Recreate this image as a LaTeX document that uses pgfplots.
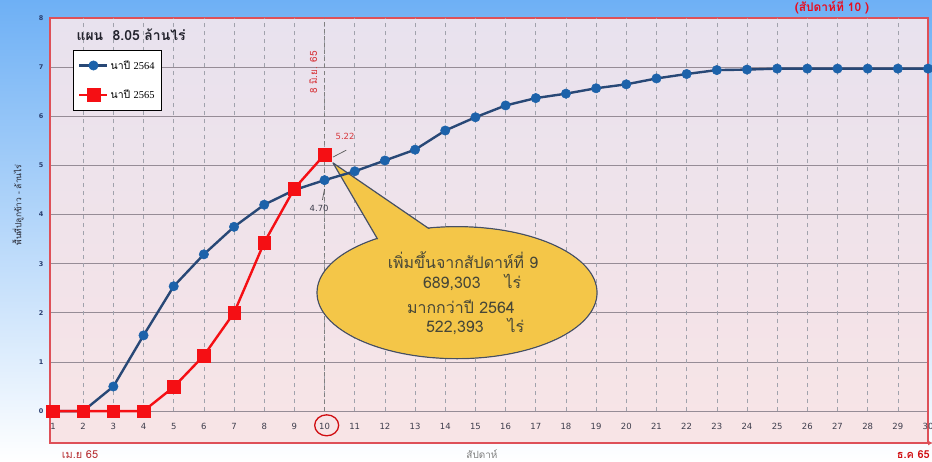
\documentclass[border=0pt]{standalone}
\usepackage{fontspec}
\setmainfont{DejaVu Sans}
\newfontfamily\thai[Script=Thai]{Loma}
\newfontfamily\serifl{Liberation Serif}
\usepackage{pgfplots}
\usepackage{pgfplotstable}
\pgfplotsset{compat=1.18}
\usetikzlibrary{arrows.meta}

\definecolor{bgblue}{RGB}{110,176,245}
\definecolor{plotTop}{RGB}{232,226,238}
\definecolor{plotBot}{RGB}{248,228,230}
\definecolor{frameRed}{RGB}{222,80,88}
\definecolor{gridGrey}{RGB}{150,140,150}
\definecolor{vgridGrey}{RGB}{160,162,172}
\definecolor{tickGrey}{RGB}{60,60,75}
\definecolor{ytickBlue}{RGB}{40,60,110}
\definecolor{blueLine}{RGB}{40,72,118}
\definecolor{blueMark}{RGB}{28,98,170}
\definecolor{redC}{RGB}{245,15,20}
\definecolor{labelRed}{RGB}{215,55,60}
\definecolor{callFill}{RGB}{244,198,72}
\definecolor{callDraw}{RGB}{70,80,100}
\definecolor{callText}{RGB}{70,70,55}
\definecolor{titleC}{RGB}{35,35,45}

\pgfplotstableread{
x y
1 0
2 0
3 0.50
4 1.54
5 2.54
6 3.19
7 3.75
8 4.20
9 4.50
10 4.70
11 4.88
12 5.10
13 5.32
14 5.71
15 5.98
16 6.22
17 6.37
18 6.46
19 6.57
20 6.65
21 6.77
22 6.86
23 6.94
24 6.95
25 6.97
26 6.97
27 6.97
28 6.97
29 6.97
30 6.97
}\blueData

\pgfplotstableread{
x y
1 0
2 0
3 0
4 0
5 0.49
6 1.13
7 2.00
8 3.43
9 4.53
10 5.22
}\redData

\begin{document}
\begin{tikzpicture}
\useasboundingbox (0bp,0bp) rectangle (932bp,462bp);
\clip (0bp,0bp) rectangle (932bp,462bp);
\shade[top color=bgblue, bottom color=white] (0bp,0bp) rectangle (932bp,462bp);
\begin{axis}[
  at={(50bp,19bp)}, anchor=south west,
  scale only axis, width=878bp, height=425bp,
  xmin=0.9, xmax=30, ymin=-0.65, ymax=8,
  xtick={1,...,30}, ytick={0,...,8},
  major tick length=0pt,
  axis background/.style={top color=plotTop, bottom color=plotBot},
  axis line style={draw=frameRed, line width=1.6bp},
  ymajorgrids, grid style={draw=gridGrey, line width=0.8bp},
  /pgf/number format/assume math mode=true,
  xticklabel style={anchor=center, yshift=17bp, font=\fontsize{8.5}{10}\selectfont, text=tickGrey},
  yticklabel style={font=\bfseries\fontsize{6.5}{8}\selectfont, text=ytickBlue, xshift=-3bp},
  clip=false,
  legend style={at={(0.026,0.925)}, anchor=north west, draw=black, line width=0.9bp, fill=white,
    font=\fontsize{10.5}{12}\selectfont, row sep=15bp, inner xsep=5bp, inner ysep=8bp},
  legend cell align=left,
  legend image code/.code={\draw[mark repeat=2, mark phase=2, #1] plot coordinates {(0bp,0bp) (14bp,0bp) (28bp,0bp)};},
]
% vertical dashed grid
\pgfplotsinvokeforeach{2,...,29}{
  \draw[draw=vgridGrey, dash pattern=on 4bp off 4bp, line width=0.6bp] (axis cs:#1,0) -- (axis cs:#1,8);
}
% reference line at week 10
\draw[draw=gray, dash pattern=on 4bp off 3bp, line width=0.9bp] (axis cs:10,0) -- (axis cs:10,8);
\node[rotate=90, text=labelRed, font=\thai\fontsize{10}{12}\selectfont] at (axis cs:9.62,6.89) {8 มิ.ย. 65};

% callout
\fill[callFill, draw=callDraw, line width=1.2bp] (axis cs:14.39,2.41) ellipse [x radius=140bp, y radius=66bp];
\fill[callFill, draw=callDraw, line width=1.2bp, line join=round] (axis cs:10.28,5.05) -- (axis cs:12.10,3.14) -- (axis cs:14.18,3.41) -- cycle;
\fill[callFill] (axis cs:14.39,2.41) ellipse [x radius=139bp, y radius=65bp];
\node[text=callText, font=\thai\fontsize{16}{18}\selectfont] at (axis cs:14.59,3.08) {เพิ่มขึ้นจากสัปดาห์ที่ 9};
\node[text=callText, font=\thai\fontsize{16}{18}\selectfont] at (axis cs:14.89,2.61) {689,303\hspace{24bp}ไร่};
\node[text=callText, font=\thai\fontsize{16}{18}\selectfont] at (axis cs:14.52,2.12) {มากกว่าปี 2564};
\node[text=callText, font=\thai\fontsize{16}{18}\selectfont] at (axis cs:14.99,1.72) {522,393\hspace{24bp}ไร่};

\addplot[color=blueLine, line width=2.4bp, mark=*, mark size=4.7bp, mark options={fill=blueMark, draw=blueMark, line width=0.5bp}] table[x=x, y=y] {\blueData};
\addlegendentry{{\thai นาปี} {\serifl 2564}}
\addplot[color=redC, line width=2.4bp, mark=square*, mark size=6.3bp, mark options={fill=redC, draw=redC, line width=0.5bp}] table[x=x, y=y] {\redData};
\addlegendentry{{\thai นาปี} {\serifl 2565}}

% value labels
\draw[gray!70!black, line width=0.7bp] (axis cs:10.28,5.17) -- (axis cs:10.72,5.31);
\node[text=labelRed, font=\fontsize{8.5}{10}\selectfont] at (axis cs:10.68,5.59) {5.22};
\draw[gray!70!black, line width=0.7bp] (axis cs:9.93,4.30) -- (axis cs:10.0,4.52);
\node[text=tickGrey, font=\fontsize{8.5}{10}\selectfont] at (axis cs:9.82,4.12) {4.70};

% circle around week 10 tick label
\draw[redC!85!black, line width=1.3bp] (axis cs:10.07,-0.29) ellipse [x radius=12bp, y radius=10.5bp];
\end{axis}

% title
\node[anchor=west, text=titleC, font=\thai\bfseries\fontsize{14}{16}\selectfont] at (73bp,427bp) {แผน\ \ 8.05 ล้านไร่};
% y label
\node[rotate=90, text=titleC, font=\thai\fontsize{8.5}{10}\selectfont] at (18bp,257bp) {พื้นที่ปลูกข้าว - ล้านไร่};
% arrow at end of time axis
\draw[frameRed, line width=1.6bp, -{Latex[length=5bp,width=5bp]}] (924bp,19bp) -- (933bp,19bp);
% bottom labels
\node[anchor=base, inner sep=0pt, text=labelRed!85!black, font=\thai\fontsize{11}{13}\selectfont] at (80bp,4bp) {เม.ย 65};
\node[anchor=base east, inner sep=0pt, text=redC!85!black, font=\thai\bfseries\fontsize{11}{13}\selectfont] at (930bp,4bp) {ธ.ค 65};
\node[anchor=base, inner sep=0pt, text=gray, font=\thai\fontsize{10}{12}\selectfont] at (482bp,4bp) {สัปดาห์};
% top right
\node[anchor=base, inner sep=0pt, text=redC!80!purple, font=\thai\bfseries\fontsize{12}{14}\selectfont] at (832bp,450bp) {(สัปดาห์ที่ 10 )};
\end{tikzpicture}
\end{document}
